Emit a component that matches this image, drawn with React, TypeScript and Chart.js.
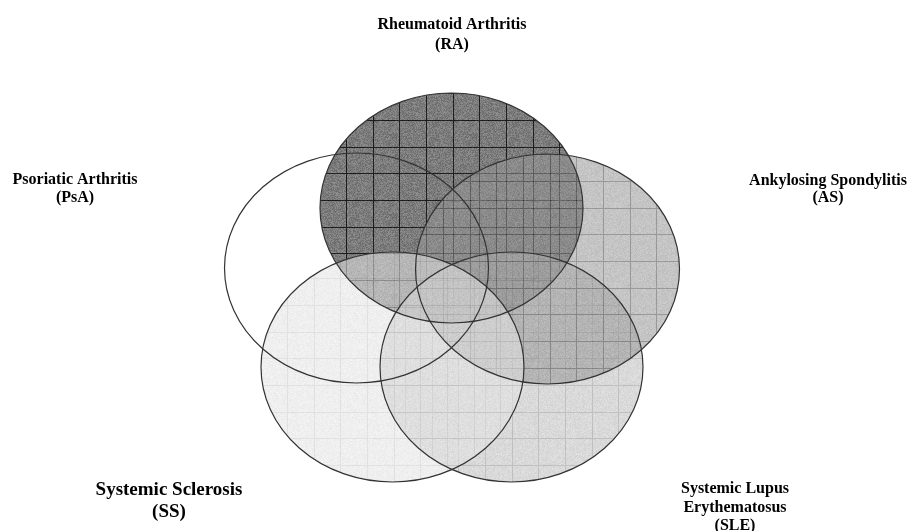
import React, { useEffect, useRef } from "react";
import Chart from "chart.js/auto";

// ---- Data ----
const setNames = ["PsA", "RA", "SLE", "SS", "AS"];
const centerX = [356.5, 451.5, 511.5, 392.5, 547.5];
const centerY = [268, 208, 367, 367, 269];
const radiusX = [132, 131.5, 131.5, 131.5, 132];
const radiusY = [115, 115, 115, 115, 115];

const labelLines = [
  ["Psoriatic Arthritis", "(PsA)"],
  ["Rheumatoid Arthritis", "(RA)"],
  ["Systemic Lupus", "Erythematosus", "(SLE)"],
  ["Systemic Sclerosis", "(SS)"],
  ["Ankylosing Spondylitis", "(AS)"],
];
const labelX = [75, 452, 735, 169, 828];
const labelY = [180, 25, 489, 490, 181];
const labelSize = [16, 16, 16, 19, 16];
const labelGap = [18, 20, 18.5, 22, 17];

// ---- Styles (per set) ----
const fillBase = [null, 124, 193, 227, 151];
const fillAlpha = [0, 1, 0.6, 0.57, 0.56];
const gridShade = [0, 30, 150, 203, 73];
const noiseAmp = [0, 20, 14, 10, 16];
const gridOffX = [0, 26, 5, 47, 43];
const gridOffY = [0, 40, 65, 65, 21];
const drawOrder = [0, 1, 2, 4, 3];

function hash(i: number, j: number, k: number) {
  const v = Math.sin(i * 12.9898 + j * 78.233 + k * 37.719) * 43758.5453;
  return v - Math.floor(v);
}

function makePattern(ctx: CanvasRenderingContext2D, idx: number) {
  const size = 80;
  const c = document.createElement("canvas");
  c.width = size;
  c.height = size;
  const t = c.getContext("2d")!;
  const img = t.createImageData(size, size);
  const base = fillBase[idx] as number;
  const amp = noiseAmp[idx];
  const lines = [0, 27, 53];
  for (let yy = 0; yy < size; yy++) {
    for (let xx = 0; xx < size; xx++) {
      let v = base + (hash(xx, yy, idx) - 0.5) * 2 * amp;
      if (lines.includes(xx) || lines.includes(yy)) v = gridShade[idx] + (hash(xx, yy, idx + 9) - 0.5) * amp;
      v = Math.max(0, Math.min(255, v));
      const p = (yy * size + xx) * 4;
      img.data[p] = v;
      img.data[p + 1] = v;
      img.data[p + 2] = v;
      img.data[p + 3] = 255;
    }
  }
  t.putImageData(img, 0, 0);
  const pat = ctx.createPattern(c, "repeat")!;
  pat.setTransform(new DOMMatrix().translate(gridOffX[idx], gridOffY[idx]));
  return pat;
}

const vennPlugin = {
  id: "venn",
  afterDatasetsDraw(chart: any) {
    const { ctx } = chart;
    const xs = chart.scales.x;
    const ys = chart.scales.y;
    const shapes = centerX.map((cx, i) => {
      const px = xs.getPixelForValue(cx);
      const py = ys.getPixelForValue(centerY[i]);
      return {
        px,
        py,
        rx: Math.abs(xs.getPixelForValue(cx + radiusX[i]) - px),
        ry: Math.abs(ys.getPixelForValue(centerY[i] + radiusY[i]) - py),
      };
    });
    ctx.save();
    drawOrder.forEach((i) => {
      if (fillBase[i] === null) return;
      const s = shapes[i];
      ctx.globalAlpha = fillAlpha[i];
      ctx.fillStyle = makePattern(ctx, i);
      ctx.beginPath();
      ctx.ellipse(s.px, s.py, s.rx, s.ry, 0, 0, Math.PI * 2);
      ctx.fill();
    });
    ctx.globalAlpha = 1;
    ctx.strokeStyle = "#333333";
    ctx.lineWidth = 1.2;
    shapes.forEach((s) => {
      ctx.beginPath();
      ctx.ellipse(s.px, s.py, s.rx, s.ry, 0, 0, Math.PI * 2);
      ctx.stroke();
    });
    ctx.fillStyle = "#000";
    ctx.textAlign = "center";
    ctx.textBaseline = "middle";
    labelLines.forEach((lines, i) => {
      ctx.font = `bold ${labelSize[i]}px "Liberation Serif", "Times New Roman", serif`;
      lines.forEach((ln, k) => {
        ctx.fillText(ln, labelX[i], labelY[i] + k * labelGap[i]);
      });
    });
    ctx.restore();
  },
};

export default function App() {
  const ref = useRef<HTMLCanvasElement>(null);
  useEffect(() => {
    if (!ref.current) return;
    const chart = new Chart(ref.current, {
      type: "scatter",
      data: {
        datasets: [
          {
            label: "Sets",
            data: centerX.map((x, i) => ({ x, y: centerY[i] })),
            pointRadius: 0,
            showLine: false,
          },
        ],
      },
      options: {
        responsive: false,
        animation: false,
        layout: { padding: 0 },
        plugins: { legend: { display: false }, tooltip: { enabled: false } },
        scales: {
          x: { type: "linear", min: 0, max: 912, display: false },
          y: { type: "linear", min: 0, max: 531, reverse: true, display: false },
        },
      },
      plugins: [vennPlugin],
    });
    return () => chart.destroy();
  }, []);
  return (
    <div style={{ position: "fixed", left: 0, top: 0, width: 912, height: 531, background: "#fff" }}>
      <canvas ref={ref} width={912} height={531} />
    </div>
  );
}
